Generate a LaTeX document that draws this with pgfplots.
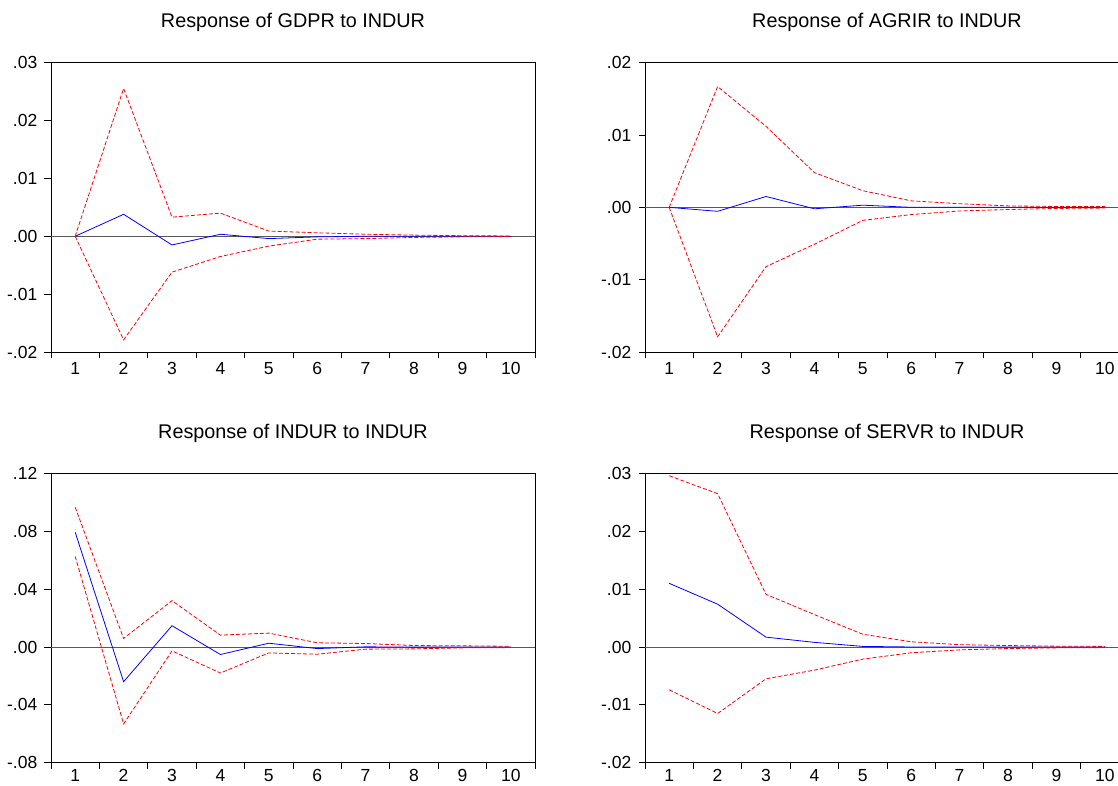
\documentclass[border=0pt]{standalone}
\usepackage{pgfplots}
\pgfplotsset{compat=1.18}
\usepackage{fontspec}
\setmainfont{Liberation Sans}

\newcommand{\tickfont}{\fontsize{17.5}{19}\selectfont}
\newcommand{\titlefont}{\fontsize{19.8}{21}\selectfont}
\pgfplotsset{irf/.style={
  scale only axis, width=484pt, height=289.3pt, anchor=south west,
  xmin=0.5, xmax=10.5,
  xtick={0.5,1.5,2.5,3.5,4.5,5.5,6.5,7.5,8.5,9.5,10.5}, xticklabels={},
  extra x ticks={1,2,3,4,5,6,7,8,9,10},
  extra x tick labels={1,2,3,4,5,6,7,8,9,10},
  extra x tick style={major tick length=0pt},
  xtick pos=bottom, ytick pos=left, tick align=outside,
  major tick length=6.5pt,
  scaled y ticks=false,
  axis line style={line width=0.9pt},
  tick style={line width=0.9pt, black},
  tick label style={font=\tickfont},
  yticklabel style={inner sep=2pt, xshift=-5pt},
  title style={font=\titlefont, at={(0.5,1)}, anchor=base, yshift=28.7pt},
},
toprow/.style={xticklabel style={yshift=-7pt}},
bottomrow/.style={xticklabel style={yshift=-3pt}},
zero/.style={black!65, line width=0.9pt, forget plot},
resp/.style={blue, line width=0.8pt},
band/.style={red, line width=0.8pt, dash pattern=on 4pt off 2pt},
}

\begin{document}
\begin{tikzpicture}
\useasboundingbox (0,0) rectangle (1118pt,785pt);
%%%%%%%% GDPR %%%%%%%%
\begin{axis}[irf, toprow, at={(51pt,433pt)},
  title={Response of GDPR to INDUR},
  ymin=-0.02, ymax=0.03,
  ytick={-0.02,-0.01,0,0.01,0.02,0.03},
  yticklabels={-.02,-.01,.00,.01,.02,.03}]
\addplot[zero] coordinates {(0.5,0) (10.5,0)};
\addplot[resp] coordinates {(1,0) (2,0.0038) (3,-0.0015) (4,0.00035) (5,-0.0004) (6,-0.0001) (7,0) (8,0) (9,0) (10,0)};
\addplot[band] coordinates {(1,0) (2,0.02555) (3,0.0033) (4,0.0040) (5,0.0009) (6,0.0006) (7,0.00035) (8,0.0002) (9,0.0001) (10,0.00005)};
\addplot[band] coordinates {(1,0) (2,-0.0179) (3,-0.0062) (4,-0.0035) (5,-0.0017) (6,-0.0005) (7,-0.0004) (8,-0.0002) (9,-0.0001) (10,-0.00005)};
\end{axis}
%%%%%%%% AGRIR %%%%%%%%
\begin{axis}[irf, toprow, at={(645pt,433pt)},
  title={Response of AGRIR to INDUR},
  ymin=-0.02, ymax=0.02,
  ytick={-0.02,-0.01,0,0.01,0.02},
  yticklabels={-.02,-.01,.00,.01,.02}]
\addplot[zero] coordinates {(0.5,0) (10.5,0)};
\addplot[resp] coordinates {(1,0) (2,-0.00055) (3,0.0015) (4,-0.0002) (5,0.0003) (6,0) (7,0) (8,0) (9,0) (10,0)};
\addplot[band] coordinates {(1,0) (2,0.0167) (3,0.0112) (4,0.0048) (5,0.0023) (6,0.0009) (7,0.0005) (8,0.0002) (9,0.00012) (10,0.0001)};
\addplot[band] coordinates {(1,0) (2,-0.0179) (3,-0.0082) (4,-0.0051) (5,-0.0018) (6,-0.0010) (7,-0.0005) (8,-0.0003) (9,-0.00015) (10,-0.0001)};
\end{axis}
%%%%%%%% INDUR %%%%%%%%
\begin{axis}[irf, bottomrow, at={(51pt,22.3pt)},
  title={Response of INDUR to INDUR},
  ymin=-0.08, ymax=0.12,
  ytick={-0.08,-0.04,0,0.04,0.08,0.12},
  yticklabels={-.08,-.04,.00,.04,.08,.12}]
\addplot[zero] coordinates {(0.5,0) (10.5,0)};
\addplot[resp] coordinates {(1,0.0793) (2,-0.0240) (3,0.0147) (4,-0.0052) (5,0.0026) (6,-0.0011) (7,0.0001) (8,-0.0001) (9,0) (10,0)};
\addplot[band] coordinates {(1,0.0966) (2,0.0059) (3,0.0320) (4,0.0082) (5,0.0096) (6,0.0029) (7,0.0024) (8,0.0010) (9,0.0008) (10,0.0005)};
\addplot[band] coordinates {(1,0.0626) (2,-0.0532) (3,-0.0027) (4,-0.0180) (5,-0.0041) (6,-0.0050) (7,-0.0015) (8,-0.0013) (9,-0.0006) (10,-0.0004)};
\end{axis}
%%%%%%%% SERVR %%%%%%%%
\begin{axis}[irf, bottomrow, at={(645pt,22.3pt)},
  title={Response of SERVR to INDUR},
  ymin=-0.02, ymax=0.03,
  ytick={-0.02,-0.01,0,0.01,0.02,0.03},
  yticklabels={-.02,-.01,.00,.01,.02,.03}]
\addplot[zero] coordinates {(0.5,0) (10.5,0)};
\addplot[resp] coordinates {(1,0.0110) (2,0.0074) (3,0.0017) (4,0.0008) (5,0.0001) (6,0) (7,0) (8,0) (9,0) (10,0)};
\addplot[band] coordinates {(1,0.0296) (2,0.0265) (3,0.0091) (4,0.0056) (5,0.0022) (6,0.0009) (7,0.0004) (8,0.00025) (9,0.00014) (10,0.0001)};
\addplot[band] coordinates {(1,-0.0074) (2,-0.0115) (3,-0.0055) (4,-0.0040) (5,-0.0021) (6,-0.0010) (7,-0.0005) (8,-0.00027) (9,-0.00015) (10,-0.0001)};
\end{axis}
\end{tikzpicture}
\end{document}
